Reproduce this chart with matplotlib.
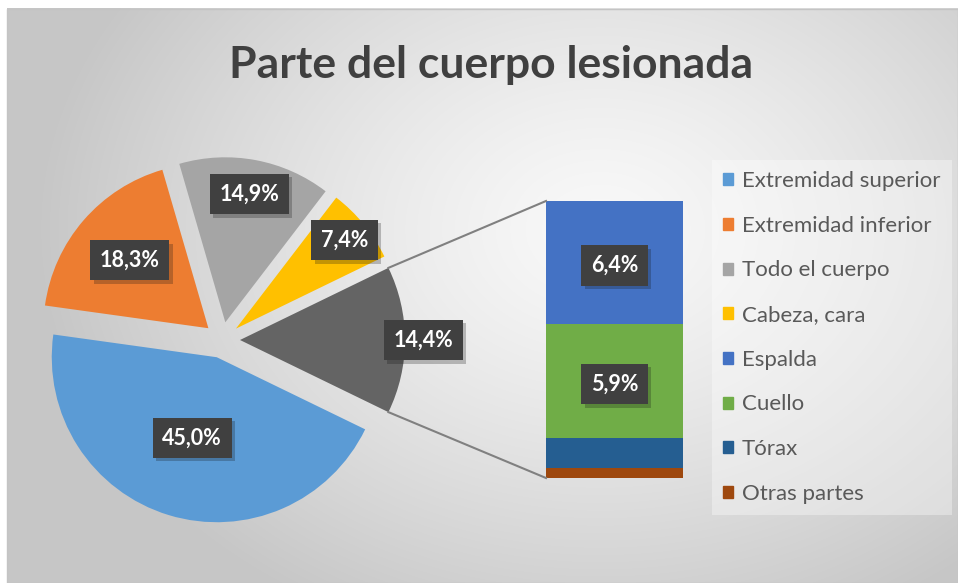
import numpy as np
import matplotlib.pyplot as plt
import matplotlib.patheffects as pe
from matplotlib.patches import Patch, Rectangle

plt.rcParams['font.family'] = ['Lato', 'DejaVu Sans']

# pie part
pie_labels = ['Extremidad superior', 'Extremidad inferior', 'Todo el cuerpo', 'Cabeza, cara', 'Otros']
pie_values = [45.0, 18.3, 14.9, 7.4, 14.4]
pie_colors = ['#5B9BD5', '#ED7D31', '#A5A5A5', '#FFC000', '#646464']
pie_text = ['45,0%', '18,3%', '14,9%', '7,4%', '14,4%']

# bar part (breakdown of the last slice), top to bottom
bar_labels = ['Espalda', 'Cuello', 'Tórax', 'Otras partes']
bar_values = [6.4, 5.9, 1.6, 0.5]
bar_colors = ['#4472C4', '#70AD47', '#255E91', '#9E480E']
bar_text = ['6,4%', '5,9%', '', '']

W, H = 958, 583
fig = plt.figure(figsize=(W / 100, H / 100), dpi=100)
ax = fig.add_axes([0, 0, 1, 1])

# background: grey gradient, lighter towards upper middle
yy, xx = np.mgrid[0:H, 0:W]
r = np.sqrt(((xx - 600) / 560.0) ** 2 + ((yy - (H - 230)) / 430.0) ** 2)
r = np.clip(r, 0, 1) ** 1.3
c0, c1 = 0.975, 0.78
g = c0 + (c1 - c0) * r
img = np.dstack([g, g, g])
img[(xx < 7) | (yy > H - 9)] = 1.0
ax.imshow(img, origin='lower', extent=(0, W, 0, H), zorder=0, interpolation='bilinear')
ax.add_patch(Rectangle((7, 0), W - 7, H - 9, fill=False, ec='#c4c4c4', lw=1, zorder=1))


def label(x, y, t):
    # dark box with a soft shadow, like the excel data labels
    txt = ax.text(x, y, t, color='white', fontsize=15.5, fontweight='bold', ha='center',
                  va='center', bbox=dict(boxstyle='square,pad=0.45', fc='#404040', ec='none'),
                  zorder=5)
    txt.get_bbox_patch().set_path_effects(
        [pe.SimplePatchShadow(offset=(2.5, -2.5), alpha=0.25), pe.Normal()])


center = (222, 243)
radius = 165
start = -pie_values[-1] / sum(pie_values) * 360 / 2
# explode is in data units here (pixels)
wedges, _ = ax.pie(pie_values, colors=pie_colors, startangle=start, counterclock=False,
                   explode=[18] * len(pie_values), radius=radius, center=center,
                   frame=True, wedgeprops=dict(linewidth=0))
for w in wedges:
    w.set_zorder(2)

fracs = [0.51, 0.63, 0.79, 0.85, 1.11]
for w, t, f in zip(wedges, pie_text, fracs):
    a = np.deg2rad((w.theta1 + w.theta2) / 2)
    cx, cy = w.center
    label(cx + f * w.r * np.cos(a), cy + f * w.r * np.sin(a), t)

# stacked bar
scale = 277 / sum(bar_values)
bx, bw, base = 614.5, 137, 105
bottom = base
for lab, v, c, t in zip(bar_labels[::-1], bar_values[::-1], bar_colors[::-1], bar_text[::-1]):
    ax.bar(bx, v * scale, width=bw, bottom=bottom, color=c, zorder=2)
    if t:
        label(bx, bottom + v * scale / 2 - 3, t)
    bottom += v * scale

# connector lines
ow = wedges[-1]
ocx, ocy = ow.center
for ang, yb in [(ow.theta2, bottom), (ow.theta1, base)]:
    a = np.deg2rad(ang)
    ax.plot([ocx + ow.r * np.cos(a), bx - bw / 2], [ocy + ow.r * np.sin(a), yb],
            color='#808080', lw=1.5, zorder=3)

ax.set_xlim(0, W)
ax.set_ylim(0, H)
ax.set_aspect('auto')
ax.axis('off')

ax.text(491, H - 65, 'Parte del cuerpo lesionada', fontsize=32, fontweight='bold',
        color='#404040', ha='center', va='center', zorder=5)

handles = [Patch(color=c) for c in pie_colors[:-1] + bar_colors]
labels = pie_labels[:-1] + bar_labels
leg = ax.legend(handles, labels, loc='upper left', bbox_to_anchor=(712 / W, 1 - 160 / H),
                bbox_transform=fig.transFigure, fontsize=16, labelcolor='#595959',
                handlelength=0.45, handleheight=0.45, handletextpad=0.4,
                labelspacing=1.11, borderpad=0.5, borderaxespad=0, frameon=True, fancybox=False,
                facecolor='white', edgecolor='none', framealpha=0.35)
leg.set_zorder(6)

fig.savefig('out.png', dpi=100)
